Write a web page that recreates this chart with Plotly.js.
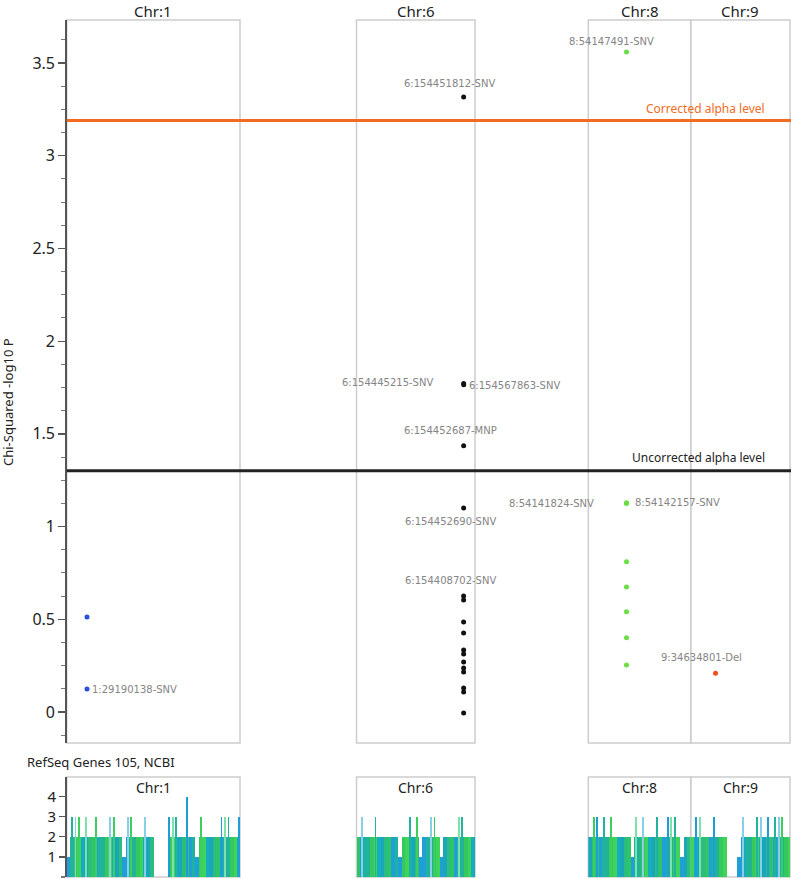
<!DOCTYPE html>
<html><head><meta charset="utf-8">
<script src="https://cdn.plot.ly/plotly-3.0.1.min.js"></script>
<style>html,body{margin:0;padding:0;background:#fff}#chart{width:791px;height:879px}</style>
</head><body><div id="chart"></div>
<script>
var chromosomes = ['Chr:1', 'Chr:6', 'Chr:8', 'Chr:9'];
var chromLengthMb = [248.96, 170.81, 145.14, 138.39];

var chr1Pos = [29190138, 29190355];
var chr1NegLogP = [0.124, 0.512];
var chr1Labels = ['1:29190138-SNV', ''];

var chr6Pos = [154451812, 154445215, 154567863, 154452687, 154452690, 154408702, 154409115, 154410230, 154412877, 154415402, 154418066, 154420591, 154423340, 154426918, 154430205, 154433771, 154437460];
var chr6NegLogP = [3.317, 1.772, 1.765, 1.436, 1.100, 0.626, 0.604, 0.485, 0.426, 0.334, 0.313, 0.270, 0.237, 0.216, 0.129, 0.108, -0.005];
var chr6Labels = ['6:154451812-SNV', '6:154445215-SNV', '6:154567863-SNV', '6:154452687-MNP', '6:154452690-SNV', '6:154408702-SNV', '', '', '', '', '', '', '', '', '', '', ''];

var chr8Pos = [54147491, 54141824, 54142157, 54143012, 54144388, 54145120, 54145902, 54146733];
var chr8NegLogP = [3.560, 1.125, 1.129, 0.810, 0.674, 0.541, 0.400, 0.253];
var chr8Labels = ['8:54147491-SNV', '8:54141824-SNV', '8:54142157-SNV', '', '', '', '', ''];

var chr9Pos = [34634801];
var chr9NegLogP = [0.209];
var chr9Labels = ['9:34634801-Del'];

var correctedAlpha = 3.19;
var uncorrectedAlpha = 1.301;

var geneBinMb = 5;
var chr1GeneCounts = [1,3,3,3,2,3,2,2,3,2, 2,2,3,3,2,2,1,3,3,2, 2,2,3,2,2,0,0,0,0,3, 3,3,2,2,4,2,2,1,3,2, 2,2,2,2,3,3,3,2,2,3];
var chr6GeneCounts = [2,3,2,2,2,3,2,2,2,2, 2,2,1,2,2,3,2,3,1,2, 2,3,3,2,1,2,2,2,2,3, 3,2,2,2,2];
var chr8GeneCounts = [2,3,3,2,3,2,3,2,2,2, 2,2,1,3,2,3,2,2,2,3, 2,2,3,3,3,2,1,2,2];
var chr9GeneCounts = [2,3,3,2,2,2,3,2,2,2, 0,0,0,1,3,2,2,2,3,3, 2,3,2,3,3,3,2,2];

var W = 791, H = 879;
var panelPx = [[66.7, 240], [356.5, 475], [588.3, 690.7], [690.7, 790]];
var mainTopPx = 20, mainBotPx = 743;
var geneTopPx = 777, geneBotPx = 877;
var pointColors = ['#2a50dc', '#111111', '#6ade44', '#f24d1c'];
var basePalette = ['#1db3a0', '#2ec46a', '#18a6b8', '#3fd35a', '#21b394', '#1f9ed8', '#2bbd80', '#16acc2', '#35c85e'];
var spikePalette = ['#7fe0a8', '#22b39c', '#86cfe6', '#3ccf5e', '#1e9ed6'];
var labelPlacement = {
  '1:29190138-SNV': {xanchor: 'left', xshift: 3, yshift: 0},
  '6:154451812-SNV': {xanchor: 'center', xshift: -14, yshift: 13},
  '6:154445215-SNV': {xanchor: 'right', xshift: -29, yshift: 1},
  '6:154567863-SNV': {xanchor: 'left', xshift: 3, yshift: -1},
  '6:154452687-MNP': {xanchor: 'center', xshift: -13, yshift: 15},
  '6:154452690-SNV': {xanchor: 'center', xshift: -13, yshift: -13},
  '6:154408702-SNV': {xanchor: 'center', xshift: -13, yshift: 15},
  '8:54147491-SNV': {xanchor: 'center', xshift: -15, yshift: 10},
  '8:54141824-SNV': {xanchor: 'right', xshift: -31, yshift: 0},
  '8:54142157-SNV': {xanchor: 'left', xshift: 6, yshift: 0},
  '9:34634801-Del': {xanchor: 'center', xshift: -14, yshift: 16}
};

var pos = [chr1Pos, chr6Pos, chr8Pos, chr9Pos];
var vals = [chr1NegLogP, chr6NegLogP, chr8NegLogP, chr9NegLogP];
var labs = [chr1Labels, chr6Labels, chr8Labels, chr9Labels];
var genes = [chr1GeneCounts, chr6GeneCounts, chr8GeneCounts, chr9GeneCounts];

function axName(i) { return i === 0 ? 'x' : 'x' + (i + 1); }
var traces = [];
var annotations = [];
var shapes = [];
var layout = {
  width: W, height: H,
  margin: {l: 0, r: 0, t: 0, b: 0},
  paper_bgcolor: '#ffffff', plot_bgcolor: 'rgba(0,0,0,0)',
  showlegend: false, barmode: 'overlay', bargap: 0,
  font: {family: 'Noto Sans, sans-serif', color: '#222'},
  yaxis: {
    domain: [(H - mainBotPx) / H, (H - mainTopPx) / H],
    range: [-0.167, 3.732], anchor: 'x',
    tick0: 0, dtick: 0.5, ticks: 'outside', ticklen: 7, tickwidth: 1.3, tickcolor: '#555',
    minor: {dtick: 0.125, ticks: 'outside', ticklen: 4, tickwidth: 1, tickcolor: '#777'},
    showline: true, linecolor: '#555', linewidth: 1.5,
    showgrid: false, zeroline: false,
    tickfont: {family: 'Noto Sans, sans-serif', size: 16, color: '#222'}
  },
  yaxis2: {
    domain: [(H - geneBotPx) / H, (H - geneTopPx) / H],
    range: [0, 4.98], anchor: 'x',
    tickvals: [1, 2, 3, 4], ticks: 'outside', ticklen: 6, tickwidth: 1.3, tickcolor: '#555',
    minor: {dtick: 1, ticks: 'outside', ticklen: 4, tickcolor: '#777'},
    showline: true, linecolor: '#555', linewidth: 1.5,
    showgrid: false, zeroline: false,
    tickfont: {family: 'Noto Sans, sans-serif', size: 15, color: '#222'}
  }
};

function addChromosome(chr, i) {
  var xa = axName(i);
  var key = i === 0 ? 'xaxis' : 'xaxis' + (i + 1);
  layout[key] = {
    domain: [panelPx[i][0] / W, panelPx[i][1] / W],
    range: [0, chromLengthMb[i]], visible: false, anchor: 'y',
    showgrid: false, zeroline: false
  };
  var xMb = pos[i].map(function (p) { return p / 1e6; });
  traces.push({
    type: 'scatter', mode: 'markers', xaxis: xa, yaxis: 'y',
    x: xMb, y: vals[i],
    marker: {size: 5, color: pointColors[i]}, hoverinfo: 'skip'
  });
  labs[i].forEach(function (t, k) {
    if (!t) { return; }
    var pl = labelPlacement[t] || {xanchor: 'left', xshift: 4, yshift: 0};
    annotations.push({
      xref: xa, yref: 'y', x: xMb[k], y: vals[i][k], text: t, showarrow: false,
      xanchor: pl.xanchor, yanchor: 'middle', xshift: pl.xshift, yshift: pl.yshift,
      font: {family: 'DejaVu Sans, sans-serif', size: 10, color: '#858585'}
    });
  });
  var g = genes[i];
  var centers = g.map(function (v, k) { return (k + 0.5) * geneBinMb; });
  var baseY = g.map(function (v) { return Math.min(v, 2); });
  var baseC = g.map(function (v, k) { return v === 1 ? '#1f9ed8' : basePalette[(k * 4 + i) % basePalette.length]; });
  traces.push({
    type: 'bar', xaxis: xa, yaxis: 'y2',
    x: centers, y: baseY, width: geneBinMb,
    marker: {color: baseC, line: {width: 0}},
    hoverinfo: 'skip'
  });
  var sx = [], sy = [], sc = [];
  g.forEach(function (v, k) {
    if (v - 2 >= 1) { sx.push(centers[k]); sy.push(v); sc.push(spikePalette[(k + i) % spikePalette.length]); }
  });
  traces.push({
    type: 'bar', xaxis: xa, yaxis: 'y2', x: sx, y: sy, width: 2.6,
    marker: {color: sc, line: {width: 0}}, hoverinfo: 'skip'
  });
  shapes.push({type: 'rect', xref: xa + ' domain', yref: 'y domain', x0: 0, x1: 1, y0: 0, y1: 1,
    line: {color: '#cdcdcd', width: 1.5}, layer: 'below'});
  shapes.push({type: 'rect', xref: xa + ' domain', yref: 'y2 domain', x0: 0, x1: 1, y0: 0, y1: 1,
    line: {color: '#cdcdcd', width: 1.5}, layer: 'below'});
  annotations.push({xref: xa + ' domain', yref: 'paper', x: 0.5, y: (H - 11) / H, text: chr,
    showarrow: false, xanchor: 'center', yanchor: 'middle',
    font: {family: 'Noto Sans, sans-serif', size: 15, color: '#222'}});
  annotations.push({xref: xa + ' domain', yref: 'paper', x: 0.5, y: (H - 787) / H, text: chr,
    showarrow: false, xanchor: 'center', yanchor: 'middle',
    font: {family: 'Noto Sans, sans-serif', size: 14, color: '#222'}});
}
chromosomes.forEach(addChromosome);

shapes.push({type: 'line', xref: 'paper', yref: 'y', x0: panelPx[0][0] / W, x1: 1, y0: correctedAlpha, y1: correctedAlpha,
  line: {color: '#f36b21', width: 3}, layer: 'above'});
shapes.push({type: 'line', xref: 'paper', yref: 'y', x0: panelPx[0][0] / W, x1: 1, y0: uncorrectedAlpha, y1: uncorrectedAlpha,
  line: {color: '#222222', width: 3}, layer: 'above'});
annotations.push({xref: 'paper', yref: 'y', x: 767 / W, y: correctedAlpha, yshift: 12, xanchor: 'right', yanchor: 'middle',
  text: 'Corrected alpha level', showarrow: false, font: {family: 'Noto Sans, sans-serif', size: 12, color: '#f36b21'}});
annotations.push({xref: 'paper', yref: 'y', x: 767 / W, y: uncorrectedAlpha, yshift: 13, xanchor: 'right', yanchor: 'middle',
  text: 'Uncorrected alpha level', showarrow: false, font: {family: 'Noto Sans, sans-serif', size: 12, color: '#222'}});

annotations.push({xref: 'paper', yref: 'paper', x: 8 / W, y: (H - 402) / H, text: 'Chi-Squared -log10 P', textangle: -90,
  showarrow: false, xanchor: 'center', yanchor: 'middle', font: {family: 'Noto Sans, sans-serif', size: 13, color: '#222'}});
annotations.push({xref: 'paper', yref: 'paper', x: 25 / W, y: (H - 762) / H, text: 'RefSeq Genes 105, NCBI',
  showarrow: false, xanchor: 'left', yanchor: 'middle', font: {family: 'Noto Sans, sans-serif', size: 13, color: '#222'}});

layout.shapes = shapes;
layout.annotations = annotations;

Plotly.newPlot('chart', traces, layout, {staticPlot: true, displayModeBar: false});
</script>
</body></html>
